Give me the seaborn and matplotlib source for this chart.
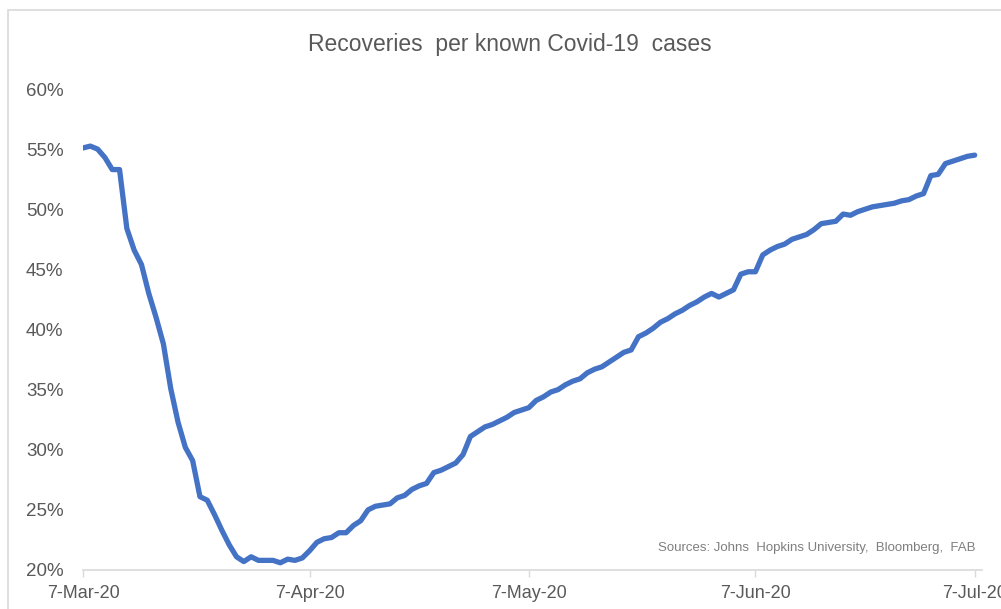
import pandas as pd
import matplotlib.pyplot as plt
import seaborn as sns
from matplotlib.ticker import PercentFormatter
from matplotlib.patches import Rectangle

sns.set_theme(style="white")
plt.rcParams["font.family"] = ["Liberation Sans", "DejaVu Sans"]

# ---- data (daily from 7-Mar-20) ----
start_date = "2020-03-07"
recovery_pct = [
    55.1, 55.25, 55.0, 54.3, 53.3, 53.3, 48.4, 46.6, 45.4, 43.0,
    41.0, 38.8, 35.1, 32.3, 30.2, 29.1, 26.1, 25.8, 24.6, 23.3,
    22.1, 21.1, 20.7, 21.1, 20.8, 20.8, 20.8, 20.6, 20.9, 20.8,
    21.0, 21.6, 22.3, 22.6, 22.7, 23.1, 23.1, 23.7, 24.1, 25.0,
    25.3, 25.4, 25.5, 26.0, 26.2, 26.7, 27.0, 27.2, 28.1, 28.3,
    28.6, 28.9, 29.6, 31.1, 31.5, 31.9, 32.1, 32.4, 32.7, 33.1,
    33.3, 33.5, 34.1, 34.4, 34.8, 35.0, 35.4, 35.7, 35.9, 36.4,
    36.7, 36.9, 37.3, 37.7, 38.1, 38.3, 39.4, 39.7, 40.1, 40.6,
    40.9, 41.3, 41.6, 42.0, 42.3, 42.7, 43.0, 42.7, 43.0, 43.3,
    44.6, 44.8, 44.8, 46.2, 46.6, 46.9, 47.1, 47.5, 47.7, 47.9,
    48.3, 48.8, 48.9, 49.0, 49.6, 49.5, 49.8, 50.0, 50.2, 50.3,
    50.4, 50.5, 50.7, 50.8, 51.1, 51.3, 52.8, 52.9, 53.8, 54.0,
    54.2, 54.4, 54.5,
]
tick_dates = ["2020-03-07", "2020-04-07", "2020-05-07", "2020-06-07", "2020-07-07"]
tick_labels = ["7-Mar-20", "7-Apr-20", "7-May-20", "7-Jun-20", "7-Jul-20"]
y_ticks = [0.20, 0.25, 0.30, 0.35, 0.40, 0.45, 0.50, 0.55, 0.60]

df = pd.DataFrame({
    "date": pd.date_range(start_date, periods=len(recovery_pct), freq="D"),
    "ratio": [v / 100 for v in recovery_pct],
})

text_col = "#595959"
line_col = "#4472C4"
axis_col = "#d9d9d9"

fig = plt.figure(figsize=(10.01, 6.09), dpi=100)
ax = fig.add_axes([83 / 1001, 39 / 609, 899 / 1001, 481 / 609])

sns.lineplot(data=df, x="date", y="ratio", color=line_col, linewidth=3.8, ax=ax)
for ln in ax.lines:
    ln.set_solid_capstyle("round")
    ln.set_solid_joinstyle("round")

ax.set_xlim(pd.Timestamp(start_date), pd.Timestamp(start_date) + pd.Timedelta(days=123))
ax.set_ylim(0.20, 0.60)
ax.set_yticks(y_ticks)
ax.yaxis.set_major_formatter(PercentFormatter(1.0, decimals=0))
ax.set_xticks(pd.to_datetime(tick_dates))
ax.set_xticklabels(tick_labels)
ax.set_xlabel("")
ax.set_ylabel("")

for s in ["top", "right", "left"]:
    ax.spines[s].set_visible(False)
ax.spines["bottom"].set_color(axis_col)
ax.spines["bottom"].set_linewidth(1.2)
ax.tick_params(axis="x", colors=axis_col, labelcolor=text_col, labelsize=13,
               length=5, width=1, direction="out", pad=6, bottom=True)
ax.tick_params(axis="y", labelcolor=text_col, labelsize=13.5, length=0, pad=14)

fig.text(510 / 1001, 1 - 45 / 609, "Recoveries  per known Covid-19  cases",
         ha="center", va="center", fontsize=16.5, color=text_col)
ax.text(975 / 1001, 1 - 548 / 609, "Sources: Johns  Hopkins University,  Bloomberg,  FAB",
        transform=fig.transFigure, ha="right", va="center", fontsize=9.5, color="#7f7f7f")

# chart area frame
fig.patches.append(Rectangle((8 / 1001, -0.05), 1.1, 1 - 10 / 609 + 0.05,
                             transform=fig.transFigure, fill=False,
                             edgecolor=axis_col, linewidth=1.2))

fig.savefig("out.png", dpi=100)
